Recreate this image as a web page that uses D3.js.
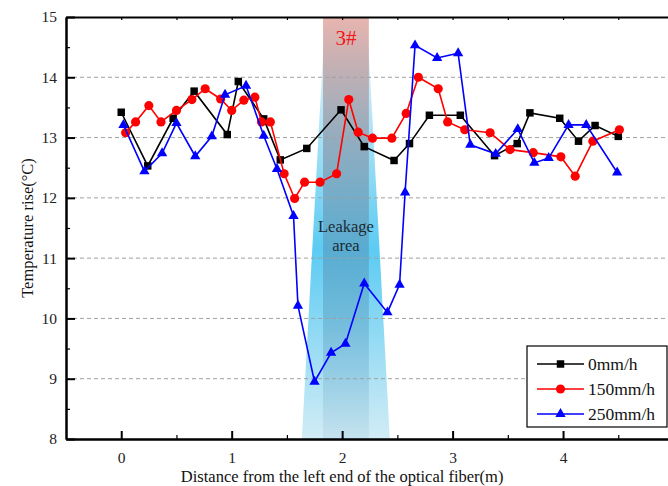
<!DOCTYPE html>
<html>
<head>
<meta charset="utf-8">
<script src="https://cdn.jsdelivr.net/npm/d3@7/dist/d3.min.js"></script>
<style>
  html, body { margin: 0; padding: 0; background: #fff; }
  svg { display: block; font-family: 'Liberation Serif', 'DejaVu Serif', serif; }
</style>
</head>
<body>
<div id="chart"></div>
<script>
// series: distance (m) and temperature rise (°C)
const dist0 = [0.00, 0.24, 0.47, 0.66, 0.96, 1.06, 1.29, 1.44, 1.68, 1.99, 2.20, 2.47, 2.61, 2.79, 3.07, 3.38, 3.585, 3.70, 3.97, 4.14, 4.29, 4.50]
const temp0 = [13.42, 12.53, 13.32, 13.77, 13.05, 13.93, 13.31, 12.63, 12.82, 13.46, 12.85, 12.62, 12.90, 13.37, 13.37, 12.70, 12.90, 13.41, 13.32, 12.94, 13.20, 13.02]

const dist150 = [0.04, 0.13, 0.25, 0.36, 0.50, 0.64, 0.76, 0.90, 1.00, 1.11, 1.21, 1.27, 1.35, 1.475, 1.57, 1.66, 1.80, 1.95, 2.06, 2.145, 2.275, 2.45, 2.58, 2.69, 2.87, 2.955, 3.11, 3.34, 3.52, 3.73, 3.98, 4.11, 4.27, 4.51]
const temp150 = [13.08, 13.26, 13.53, 13.26, 13.45, 13.63, 13.81, 13.64, 13.45, 13.62, 13.67, 13.26, 13.26, 12.40, 11.99, 12.26, 12.26, 12.40, 13.63, 13.09, 12.99, 12.99, 13.40, 14.00, 13.81, 13.26, 13.13, 13.08, 12.80, 12.75, 12.68, 12.36, 12.94, 13.13]

const dist250 = [0.02, 0.21, 0.37, 0.50, 0.67, 0.82, 0.94, 1.13, 1.29, 1.41, 1.56, 1.60, 1.75, 1.90, 2.03, 2.20, 2.41, 2.52, 2.57, 2.66, 2.86, 3.05, 3.16, 3.39, 3.59, 3.74, 3.87, 4.05, 4.21, 4.49]
const temp250 = [13.21, 12.44, 12.74, 13.24, 12.69, 13.02, 13.71, 13.86, 13.03, 12.48, 11.70, 10.21, 8.95, 9.43, 9.58, 10.58, 10.10, 10.56, 12.09, 14.53, 14.32, 14.40, 12.88, 12.73, 13.14, 12.58, 12.66, 13.21, 13.21, 12.42]

const seriesNames = ['0mm/h', '150mm/h', '250mm/h']
const xTicks = [0, 1, 2, 3, 4]
const xMinorTicks = [0.5, 1.5, 2.5, 3.5, 4.5]
const yTicks = [8, 9, 10, 11, 12, 13, 14, 15]
const yMinorTicks = [8.5, 9.5, 10.5, 11.5, 12.5, 13.5, 14.5]
const gridValues = [9, 10, 11, 12, 13, 14]

// leakage zone (distance, m): narrow at the top of the plot, wider at the bottom
const zoneTop = [1.845, 2.224]
const zoneBottom = [1.635, 2.432]
const zoneCore = [1.827, 2.242]

const width = 668
const height = 486
const margin = { top: 17, left: 66, bottom: 47 }

const x = d3.scaleLinear().domain([-0.5, 5]).range([margin.left, margin.left + 607.5])
const y = d3.scaleLinear().domain([8, 15]).range([height - margin.bottom, margin.top])

const svg = d3
  .select('#chart')
  .append('svg')
  .attr('width', width)
  .attr('height', height)

const defs = svg.append('defs')

const coneGrad = defs
  .append('linearGradient')
  .attr('id', 'cone')
  .attr('gradientUnits', 'userSpaceOnUse')
  .attr('x1', 0).attr('x2', 0)
  .attr('y1', y(15)).attr('y2', y(8))
coneGrad.append('stop').attr('offset', 0).attr('stop-color', '#ffffff')
coneGrad.append('stop').attr('offset', 0.12).attr('stop-color', '#d6eef6')
coneGrad.append('stop').attr('offset', 0.55).attr('stop-color', '#5ccbf3')
coneGrad.append('stop').attr('offset', 1).attr('stop-color', '#d2ecf5')

const coreGrad = defs
  .append('linearGradient')
  .attr('id', 'core')
  .attr('gradientUnits', 'userSpaceOnUse')
  .attr('x1', 0).attr('x2', 0)
  .attr('y1', y(15)).attr('y2', y(8))
coreGrad.append('stop').attr('offset', 0).attr('stop-color', 'rgb(212,120,110)').attr('stop-opacity', 0.55)
coreGrad.append('stop').attr('offset', 0.3).attr('stop-color', 'rgb(120,110,125)').attr('stop-opacity', 0.45)
coreGrad.append('stop').attr('offset', 0.7).attr('stop-color', 'rgb(60,120,160)').attr('stop-opacity', 0.3)
coreGrad.append('stop').attr('offset', 1).attr('stop-color', 'rgb(60,120,160)').attr('stop-opacity', 0.08)

const plot = svg.append('g')

// leakage band
plot
  .append('path')
  .attr('d', d3.line()([
    [x(zoneTop[0]), y(15)],
    [x(zoneTop[1]), y(15)],
    [x(zoneBottom[1]), y(8)],
    [x(zoneBottom[0]), y(8)],
  ]) + 'Z')
  .attr('fill', 'url(#cone)')

plot
  .append('rect')
  .attr('x', x(zoneCore[0]))
  .attr('y', y(15))
  .attr('width', x(zoneCore[1]) - x(zoneCore[0]))
  .attr('height', y(8) - y(15))
  .attr('fill', 'url(#core)')

// dashed grid
plot
  .append('g')
  .selectAll('line')
  .data(gridValues)
  .join('line')
  .attr('x1', margin.left)
  .attr('x2', width)
  .attr('y1', (d) => y(d))
  .attr('y2', (d) => y(d))
  .attr('stroke', '#a0a0a0')
  .attr('stroke-width', 1)
  .attr('stroke-dasharray', '4,3')

// zone labels
const zoneMid = (zoneCore[0] + zoneCore[1]) / 2
plot
  .append('text')
  .attr('x', x(zoneMid))
  .attr('y', 45)
  .attr('text-anchor', 'middle')
  .attr('font-size', 21)
  .attr('fill', '#f01818')
  .text('3#')

const leakLabel = plot
  .append('text')
  .attr('text-anchor', 'middle')
  .attr('font-size', 16.5)
  .attr('fill', '#1c2a33')
leakLabel.append('tspan').attr('x', x(zoneMid)).attr('y', 231.5).text('Leakage')
leakLabel.append('tspan').attr('x', x(zoneMid)).attr('y', 251).text('area')

// axes
function styleAxis(g) {
  g.attr('font-family', null)
  g.select('.domain').attr('stroke', '#000').attr('stroke-width', 2)
  g.selectAll('.tick line').attr('stroke', '#000').attr('stroke-width', 2)
  g.selectAll('.tick text').attr('fill', '#222').attr('font-size', 15.5)
}

svg
  .append('g')
  .attr('transform', `translate(0,${y(8)})`)
  .call(d3.axisBottom(x).tickValues(xMinorTicks).tickSize(-4).tickSizeOuter(0).tickFormat(''))
  .call(styleAxis)
  .call((g) => g.selectAll('.tick line').attr('stroke-width', 1.2))

svg
  .append('g')
  .attr('transform', `translate(0,${y(8)})`)
  .call(d3.axisBottom(x).tickValues(xTicks).tickSize(-8).tickSizeOuter(0).tickPadding(13).tickFormat(d3.format('d')))
  .call(styleAxis)

svg
  .append('g')
  .attr('transform', `translate(0,${y(15)})`)
  .call(d3.axisTop(x).tickValues(xTicks.concat(xMinorTicks)).tickSize(-3).tickSizeOuter(0).tickFormat(''))
  .call(styleAxis)
  .call((g) => g.selectAll('.tick line').attr('stroke-width', 1.2))

svg
  .append('g')
  .attr('transform', `translate(${margin.left},0)`)
  .call(d3.axisLeft(y).tickValues(yMinorTicks).tickSize(-4).tickSizeOuter(0).tickFormat(''))
  .call(styleAxis)
  .call((g) => g.selectAll('.tick line').attr('stroke-width', 1.2))

svg
  .append('g')
  .attr('transform', `translate(${margin.left},0)`)
  .call(d3.axisLeft(y).tickValues(yTicks).tickSize(-9).tickSizeOuter(0).tickPadding(9).tickFormat(d3.format('d')))
  .call(styleAxis)

// axis titles
svg
  .append('text')
  .attr('x', x(2))
  .attr('y', 482)
  .attr('text-anchor', 'middle')
  .attr('font-size', 16.5)
  .attr('fill', '#111')
  .text('Distance from the left end of the optical fiber(m)')

svg
  .append('text')
  .attr('transform', `translate(33,${y(11.5)}) rotate(-90)`)
  .attr('text-anchor', 'middle')
  .attr('font-size', 16.5)
  .attr('fill', '#111')
  .text('Temperature rise(°C)')

// series
const series = [
  { name: seriesNames[0], dist: dist0, temp: temp0, color: '#000000', symbol: d3.symbolSquare, size: 56 },
  { name: seriesNames[1], dist: dist150, temp: temp150, color: '#ff0000', symbol: d3.symbolCircle, size: 66 },
  { name: seriesNames[2], dist: dist250, temp: temp250, color: '#0000ff', symbol: d3.symbolTriangle, size: 46 },
]

const line = d3
  .line()
  .x((d) => x(d[0]))
  .y((d) => y(d[1]))

series.forEach((s) => {
  const pts = s.dist.map((d, i) => [d, s.temp[i]])
  const g = plot.append('g')

  g.append('path')
    .attr('d', line(pts))
    .attr('fill', 'none')
    .attr('stroke', s.color)
    .attr('stroke-width', 1.6)

  g.selectAll('path.marker')
    .data(pts)
    .join('path')
    .attr('class', 'marker')
    .attr('transform', (d) => `translate(${x(d[0])},${y(d[1])})`)
    .attr('d', d3.symbol(s.symbol, s.size))
    .attr('fill', s.color)
})

// legend
const legend = svg.append('g').attr('transform', 'translate(527,346)')

legend
  .append('rect')
  .attr('width', 140)
  .attr('height', 81)
  .attr('fill', '#fff')
  .attr('stroke', '#000')
  .attr('stroke-width', 1.2)

series.forEach((s, i) => {
  const row = legend.append('g').attr('transform', `translate(0,${18 + i * 25})`)
  row.append('line').attr('x1', 10).attr('x2', 57).attr('stroke', s.color).attr('stroke-width', 1.6)
  row.append('path').attr('transform', 'translate(33.5,0)').attr('d', d3.symbol(s.symbol, s.size)).attr('fill', s.color)
  row
    .append('text')
    .attr('x', 61)
    .attr('y', 6)
    .attr('font-size', 17.5)
    .attr('fill', '#111')
    .text(s.name)
})
</script>
</body>
</html>
